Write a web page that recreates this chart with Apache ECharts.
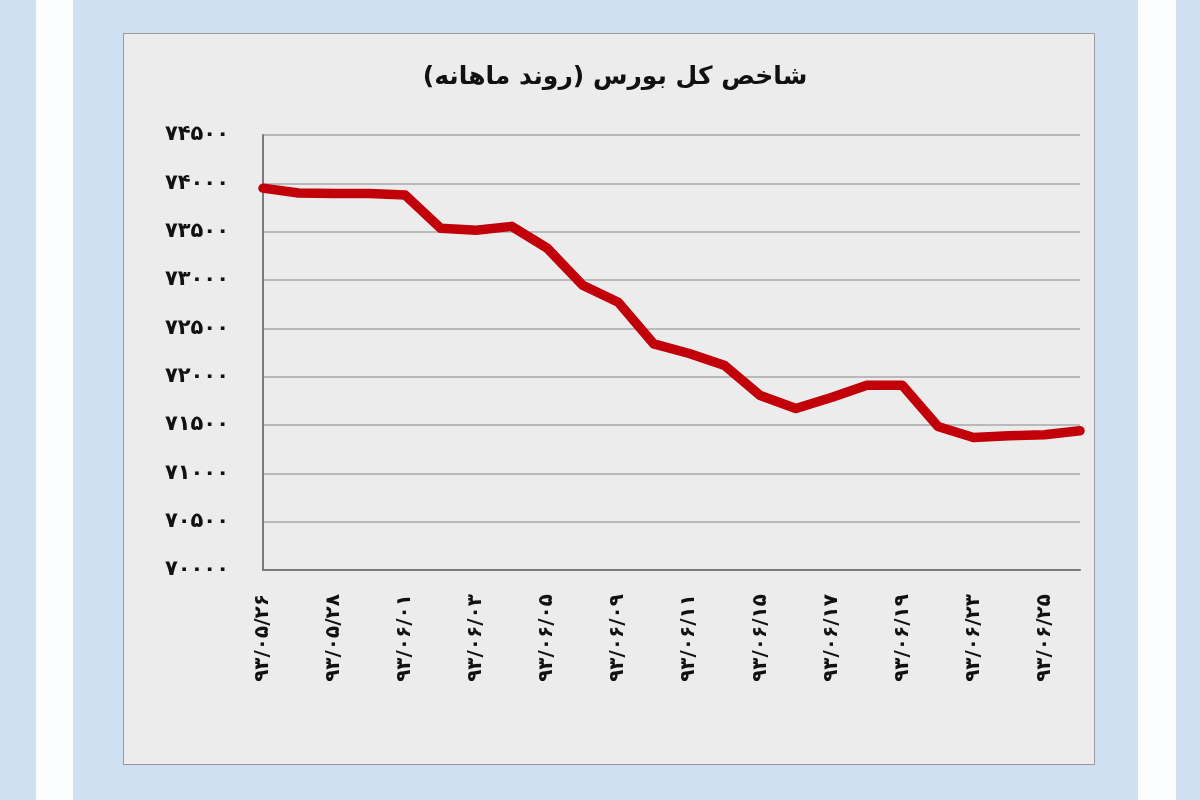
<!DOCTYPE html>
<html>
<head>
<meta charset="utf-8">
<script src="https://cdn.jsdelivr.net/npm/echarts@6/dist/echarts.min.js"></script>
<style>
  html, body { margin: 0; padding: 0; }
  body { width: 1200px; height: 800px; background: #cfe0f3; position: relative; overflow: hidden; }
  .strip { position: absolute; top: 0; height: 800px; background: #fbfdff; }
  #panel { position: absolute; left: 123px; top: 33px; width: 972px; height: 732px;
           background: #ececec; border: 1px solid #9a9a9a; box-sizing: border-box; }
  #chart { position: absolute; left: 0; top: 0; width: 1200px; height: 800px; }
</style>
</head>
<body>
<div class="strip" style="left:36px;width:37px"></div>
<div class="strip" style="left:1138px;width:38px"></div>
<div id="panel"></div>
<div id="chart"></div>
<script>
  // trading days (Persian calendar), labels shown every other day
  const dates = [
    '۹۳/۰۵/۲۶', '۹۳/۰۵/۲۷', '۹۳/۰۵/۲۸', '۹۳/۰۵/۲۹', '۹۳/۰۶/۰۱', '۹۳/۰۶/۰۲',
    '۹۳/۰۶/۰۳', '۹۳/۰۶/۰۴', '۹۳/۰۶/۰۵', '۹۳/۰۶/۰۸', '۹۳/۰۶/۰۹', '۹۳/۰۶/۱۰',
    '۹۳/۰۶/۱۱', '۹۳/۰۶/۱۲', '۹۳/۰۶/۱۵', '۹۳/۰۶/۱۶', '۹۳/۰۶/۱۷', '۹۳/۰۶/۱۸',
    '۹۳/۰۶/۱۹', '۹۳/۰۶/۲۲', '۹۳/۰۶/۲۳', '۹۳/۰۶/۲۴', '۹۳/۰۶/۲۵', '۹۳/۰۶/۲۶'
  ];
  const indexValues = [
    73950, 73900, 73895, 73895, 73880, 73535,
    73515, 73555, 73330, 72945, 72770, 72340,
    72240, 72115, 71805, 71670, 71785, 71910,
    71910, 71485, 71370, 71390, 71400, 71440
  ];
  const yMin = 70000;
  const yMax = 74500;
  const yStep = 500;
  const chartTitle = '\u200Fشاخص کل بورس (روند ماهانه)\u200F';

  const faDigits = '۰۱۲۳۴۵۶۷۸۹';
  const toFa = v => String(v).replace(/\d/g, d => faDigits[d]);

  const chart = echarts.init(document.getElementById('chart'));
  chart.setOption({
    backgroundColor: 'transparent',
    animation: false,
    title: {
      text: chartTitle,
      left: 610,
      top: 60,
      textAlign: 'center',
      textStyle: { fontFamily: 'DejaVu Sans', fontSize: 25, fontWeight: 'bold', color: '#111' }
    },
    grid: { left: 263, top: 135, right: 120, bottom: 230 },
    xAxis: {
      type: 'category',
      data: dates,
      boundaryGap: false,
      axisLine: { lineStyle: { color: '#7a7a7a', width: 2 } },
      axisTick: { show: false },
      axisLabel: {
        interval: 1,
        rotate: 90,
        margin: 24,
        fontFamily: 'DejaVu Sans',
        fontSize: 20,
        fontWeight: 'bold',
        color: '#111'
      }
    },
    yAxis: {
      type: 'value',
      min: yMin,
      max: yMax,
      interval: yStep,
      axisLine: { show: true, lineStyle: { color: '#7a7a7a', width: 2 } },
      axisTick: { show: false },
      splitLine: { lineStyle: { color: '#a9a9a9', width: 1.5 } },
      axisLabel: {
        margin: 34,
        formatter: v => toFa(v),
        fontFamily: 'DejaVu Sans',
        fontSize: 21,
        fontWeight: 'bold',
        color: '#111'
      }
    },
    series: [{
      type: 'line',
      data: indexValues,
      symbol: 'none',
      lineStyle: { color: '#c2000a', width: 9.5, cap: 'round', join: 'round' }
    }]
  });
</script>
</body>
</html>
